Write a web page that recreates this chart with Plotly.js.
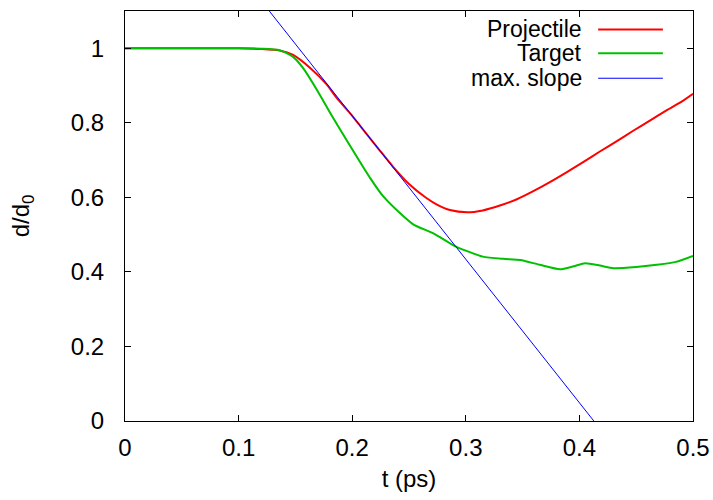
<!DOCTYPE html>
<html>
<head>
<meta charset="utf-8">
<script src="https://cdn.plot.ly/plotly-3.0.1.min.js"></script>
<style>html,body{margin:0;padding:0;background:#fff;}#chart{width:713px;height:500px;}</style>
</head>
<body>
<div id="chart"></div>
<script>
// Projectile (red)
var projT = [0, 0.05, 0.10, 0.119, 0.136, 0.148, 0.163, 0.1775, 0.186, 0.198, 0.207, 0.224, 0.236, 0.25, 0.265, 0.275, 0.286, 0.301, 0.315, 0.330, 0.345, 0.359, 0.374, 0.389, 0.404, 0.418, 0.433, 0.447, 0.462, 0.477, 0.490, 0.5];
var projV = [1, 1, 1, 0.998, 0.994, 0.982, 0.947, 0.903, 0.868, 0.826, 0.792, 0.727, 0.682, 0.636, 0.599, 0.580, 0.566, 0.560, 0.565, 0.578, 0.595, 0.616, 0.641, 0.668, 0.696, 0.723, 0.751, 0.778, 0.806, 0.834, 0.857, 0.878];
// Target (green)
var targT = [0, 0.05, 0.10, 0.12, 0.136, 0.148, 0.157, 0.169, 0.180, 0.195, 0.216, 0.227, 0.242, 0.254, 0.271, 0.290, 0.300, 0.315, 0.333, 0.348, 0.365, 0.383, 0.395, 0.405, 0.418, 0.430, 0.450, 0.468, 0.485, 0.5];
var targV = [1, 1, 1, 0.999, 0.995, 0.977, 0.946, 0.888, 0.830, 0.754, 0.651, 0.604, 0.558, 0.527, 0.504, 0.470, 0.457, 0.441, 0.435, 0.432, 0.419, 0.407, 0.415, 0.423, 0.417, 0.410, 0.413, 0.419, 0.427, 0.443];
// max. slope (blue)
var slopeT = [0.127, 0.4127];
var slopeV = [1.1, 0];

var seriesNames = ["Projectile", "Target", "max. slope"];
var seriesColors = ["#ff0000", "#00c000", "#0000ff"];
var xTicks = [0, 0.1, 0.2, 0.3, 0.4, 0.5];
var xTickText = ["0", "0.1", "0.2", "0.3", "0.4", "0.5"];
var yTicks = [0, 0.2, 0.4, 0.6, 0.8, 1];
var yTickText = ["0", "0.2", "0.4", "0.6", "0.8", "1"];

var FONT = "Liberation Sans, Arial, sans-serif";
var FS = 24;

var traces = [
  {x: projT, y: projV, name: seriesNames[0], mode: "lines", line: {color: seriesColors[0], width: 2, shape: "spline", smoothing: 0.6}},
  {x: targT, y: targV, name: seriesNames[1], mode: "lines", line: {color: seriesColors[1], width: 2, shape: "spline", smoothing: 0.6}},
  {x: slopeT, y: slopeV, name: seriesNames[2], mode: "lines", line: {color: seriesColors[2], width: 1}}
];

// legend rendered gnuplot-style: text on the left, sample line on the right
var legendRows = [0.955, 0.897, 0.836];
var annotations = [];
var shapes = [];
for (var i = 0; i < seriesNames.length; i++) {
  annotations.push({xref: "paper", yref: "paper", x: 0.806, y: legendRows[i], xanchor: "right", yanchor: "middle",
    text: seriesNames[i], showarrow: false, borderpad: 0, font: {family: FONT, size: FS - 1, color: "#000"}});
  shapes.push({type: "line", xref: "paper", yref: "paper", x0: 0.833, x1: 0.947, y0: legendRows[i], y1: legendRows[i],
    line: {color: seriesColors[i], width: i === 2 ? 1 : 2}});
}

var layout = {
  width: 713, height: 500,
  margin: {l: 125, r: 20, t: 11, b: 79},
  paper_bgcolor: "#fff", plot_bgcolor: "#fff",
  showlegend: false,
  font: {family: FONT, size: FS, color: "#000"},
  xaxis: {
    range: [0, 0.5], tickvals: xTicks, ticktext: xTickText,
    ticks: "inside", ticklen: 6, tickcolor: "#000", tickwidth: 1,
    showline: true, linecolor: "#000", linewidth: 1, mirror: "ticks",
    showgrid: false, zeroline: false, ticklabelstandoff: 5,
    title: {text: "t (ps)", font: {family: FONT, size: FS}, standoff: 10}
  },
  yaxis: {
    range: [0, 1.1], tickvals: yTicks, ticktext: yTickText,
    ticks: "inside", ticklen: 6, tickcolor: "#000", tickwidth: 1,
    showline: true, linecolor: "#000", linewidth: 1, mirror: "ticks",
    showgrid: false, zeroline: false, ticklabelstandoff: 15,
    title: {text: "d/d<sub>0</sub>", font: {family: FONT, size: FS}, standoff: 34}
  },
  annotations: annotations,
  shapes: shapes
};

Plotly.newPlot("chart", traces, layout, {staticPlot: true, displayModeBar: false});
</script>
</body>
</html>
